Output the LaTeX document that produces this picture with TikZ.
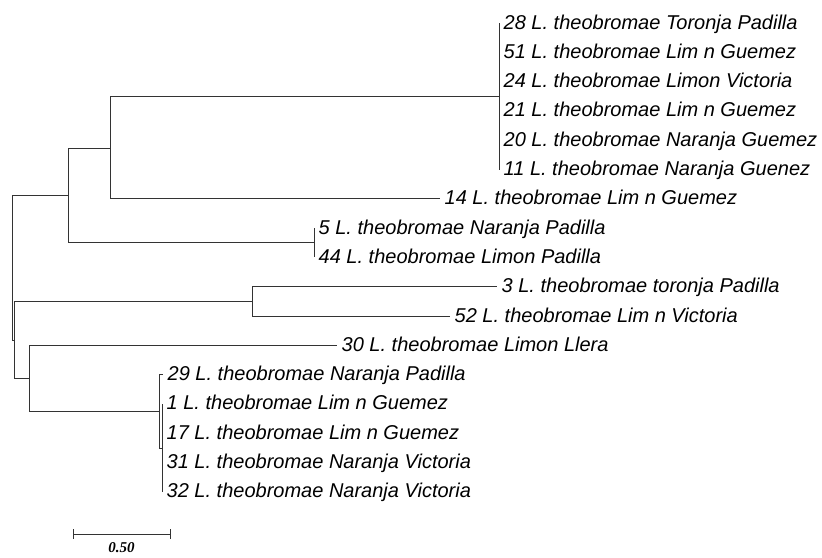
\documentclass[tikz,border=0pt]{standalone}
\usepackage{fontspec}
\newfontfamily\taxonfont{Liberation Sans}
\newfontfamily\barfont{Liberation Serif}

\tikzset{
  branch/.style={line width=0.9pt, black!80},
  taxon/.style={anchor=west, inner sep=4.5pt, text height=14pt, text depth=2pt,
    font=\taxonfont\itshape\fontsize{20}{24}\selectfont},
}

\begin{document}
\begin{tikzpicture}[x=1pt, y=-1pt]
        \useasboundingbox (0,0) rectangle (822,557);

        % Inner nodes of the tree
        \coordinate (Root) at (12, 268);     % Root
        \coordinate (CladeA) at (68, 195);   % Upper clade
        \coordinate (CladeAA) at (110, 148);
        \coordinate (CladeTop) at (499, 96.5);
        \coordinate (Clade544) at (314, 242.5);
        \coordinate (CladeB) at (14, 340);   % Lower clade
        \coordinate (Clade352) at (252, 301.5);
        \coordinate (CladeC) at (29, 378);
        \coordinate (CladeD) at (159, 411.5);
        \coordinate (CladeE) at (162, 448);

        % Taxa
        \node[taxon] (t28) at (499, 23) {28 L. theobromae Toronja Padilla};
        \node[taxon] (t51) at (499, 52.3) {51 L. theobromae Lim n Guemez};
        \node[taxon] (t24) at (499, 81.6) {24 L. theobromae Limon Victoria};
        \node[taxon] (t21) at (499, 110.9) {21 L. theobromae Lim n Guemez};
        \node[taxon] (t20) at (499, 140.2) {20 L. theobromae Naranja Guemez};
        \node[taxon] (t11) at (499, 169.5) {11 L. theobromae Naranja Guenez};
        \node[taxon] (t14) at (440, 198.8) {14 L. theobromae Lim n Guemez};
        \node[taxon] (t5) at (314, 228.1) {5 L. theobromae Naranja Padilla};
        \node[taxon] (t44) at (314, 257.4) {44 L. theobromae Limon Padilla};
        \node[taxon] (t3) at (497, 286.7) {3 L. theobromae toronja Padilla};
        \node[taxon] (t52) at (450, 316) {52 L. theobromae Lim n Victoria};
        \node[taxon] (t30) at (337, 345.3) {30 L. theobromae Limon Llera};
        \node[taxon] (t29) at (163, 374.6) {29 L. theobromae Naranja Padilla};
        \node[taxon] (t1) at (162, 403.9) {1 L. theobromae Lim n Guemez};
        \node[taxon] (t17) at (162, 433.2) {17 L. theobromae Lim n Guemez};
        \node[taxon] (t31) at (162, 462.5) {31 L. theobromae Naranja Victoria};
        \node[taxon] (t32) at (162, 491.8) {32 L. theobromae Naranja Victoria};

        % Branches
        \draw[branch] (Root) |- (CladeA);
        \draw[branch] (Root) |- (CladeB);
        \draw[branch] (CladeA) |- (CladeAA);
        \draw[branch] (CladeA) |- (Clade544);
        \draw[branch] (CladeAA) |- (CladeTop);
        \draw[branch] (CladeAA) |- (t14.west);
        \draw[branch] (CladeTop) |- (t28.west);
        \draw[branch] (CladeTop) |- (t51.west);
        \draw[branch] (CladeTop) |- (t24.west);
        \draw[branch] (CladeTop) |- (t21.west);
        \draw[branch] (CladeTop) |- (t20.west);
        \draw[branch] (CladeTop) |- (t11.west);
        \draw[branch] (Clade544) |- (t5.west);
        \draw[branch] (Clade544) |- (t44.west);
        \draw[branch] (CladeB) |- (Clade352);
        \draw[branch] (CladeB) |- (CladeC);
        \draw[branch] (Clade352) |- (t3.west);
        \draw[branch] (Clade352) |- (t52.west);
        \draw[branch] (CladeC) |- (t30.west);
        \draw[branch] (CladeC) |- (CladeD);
        \draw[branch] (CladeD) |- (t29.west);
        \draw[branch] (CladeD) |- (CladeE);
        \draw[branch] (CladeE) |- (t1.west);
        \draw[branch] (CladeE) |- (t17.west);
        \draw[branch] (CladeE) |- (t31.west);
        \draw[branch] (CladeE) |- (t32.west);

        % Scale bar
        \coordinate (BarL) at (73, 534);
        \coordinate (BarR) at (170, 534);
        \draw[branch] (BarL) -- (BarR);
        \draw[branch] (BarL) ++(0,-5) -- ++(0,10);
        \draw[branch] (BarR) ++(0,-5) -- ++(0,10);
        \node[font=\barfont\bfseries\itshape\fontsize{15}{18}\selectfont, inner sep=1pt] (BarText) at (121.5, 548) {0.50};

    \end{tikzpicture}
\end{document}
